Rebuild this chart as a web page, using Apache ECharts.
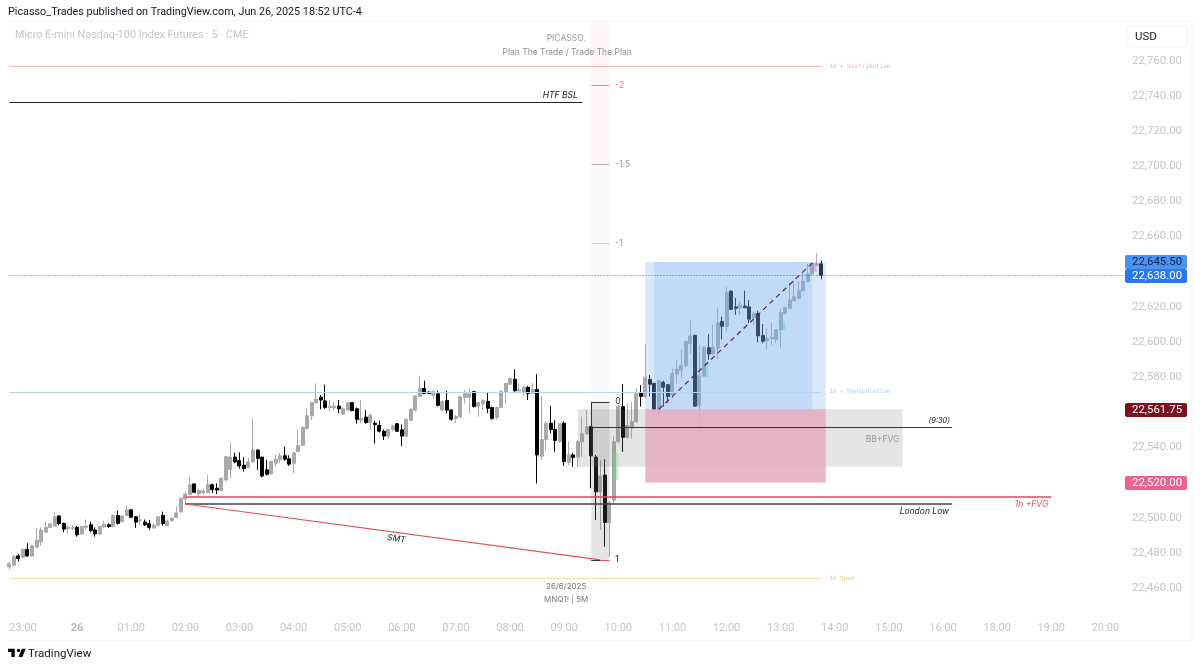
<!DOCTYPE html>
<html><head><meta charset="utf-8">
<style>html,body{margin:0;padding:0;background:#fff}#c{width:1200px;height:669px}</style>
<script src="https://cdn.jsdelivr.net/npm/echarts@6/dist/echarts.min.js"></script>
</head><body><div id="c"></div>
<script>
const priceTicks=[22460,22480,22500,22520,22540,22560,22580,22600,22620,22640,22660,22680,22700,22720,22740,22760];
const opens=[22472,22473,22478.25,22477.5,22482,22478.25,22483.25,22486.25,22491.75,22494.5,
22495.25,22501,22496.75,22493.75,22493.75,22494.5,22490.75,22494.5,22496,22493,
22490.75,22494.75,22496,22495,22501.25,22497.75,22501.25,22504.5,22500.5,22498.25,
22497.5,22496.5,22494.25,22495.75,22501.25,22495.5,22498.25,22500.25,22503.25,22510.75,
22513,22519.25,22513.5,22514.25,22514.25,22518.75,22516.75,22515.5,22521.5,22527.5,
22534.5,22532.5,22530,22528.75,22531.75,22538.5,22534.5,22527.25,22525,22531,
22533,22535.25,22533.5,22531,22537.75,22541.25,22550.75,22558,22565.5,22568.5,
22566.5,22562.75,22562.5,22563.5,22559,22561.25,22565.5,22562,22555.5,22557.25,
22554.25,22553.75,22552.5,22549.25,22546.5,22550.25,22553.5,22550,22546.5,22555.5,
22561.25,22569,22573.5,22571.5,22569.75,22570.5,22561.25,22566.75,22561.25,22556.5,
22557.5,22568.5,22568.5,22571.75,22563.5,22564.75,22566.25,22562.75,22557,22562.75,
22571.5,22576,22578.75,22572.25,22571.75,22574.25,22570.75,22573,22535,22544.5,
22553.75,22550.25,22543.25,22553.75,22531.5,22535.75,22534.5,22543.25,22547.75,22551.75,
22534.5,22514.75,22524.25,22497.25,22510,22543.25,22563.25,22545.75,22551,22554.75,
22570.75,22569,22578.75,22576.5,22561.25,22577,22575.75,22570,22581.75,22584,
22586.5,22599.25,22603.75,22564,22580.75,22596.75,22593.25,22596.5,22611.75,22608.75,
22629,22620,22619.5,22620.5,22620,22613.75,22616.25,22603.75,22600.75,22602,
22601.5,22607,22616.25,22619.25,22623.5,22625,22629.25,22634.5,22638.75,22643.75,
22644.5];
const closes=[22473.75,22477.75,22476.75,22481.75,22478.25,22484,22487.25,22493,22494.5,22496.5,
22500.5,22496.75,22493.5,22494.5,22494.25,22490.25,22495,22495.25,22492.75,22490.75,
22495,22496.25,22495,22501.25,22496.75,22501,22504.5,22500.25,22497.5,22498.75,
22496,22494.5,22495.75,22500.5,22496.75,22498,22499.75,22502.75,22511,22513.5,
22518.75,22514.5,22515.5,22515.25,22519,22516,22515.75,22522.5,22534.75,22534.5,
22531.75,22529.5,22528,22531.75,22538.5,22533.75,22523.75,22524.75,22532,22533.25,
22535.25,22533.25,22530.5,22537,22541.25,22551.5,22558,22565.5,22567.5,22567,
22562.75,22563.5,22563.5,22562,22562,22565.5,22561,22556,22556.5,22554.25,
22558.25,22553,22549.25,22546.5,22550.25,22552.25,22549.25,22546.5,22556,22561.75,
22569.25,22573.75,22570.75,22570.75,22571.75,22564,22566,22561.25,22556,22557.5,
22569,22570.75,22570.5,22563.25,22565.5,22566.75,22562.25,22556.5,22562.75,22571.75,
22576.5,22579.25,22572.25,22573,22574.25,22570.75,22573,22535.75,22544.5,22553.75,
22550.25,22544,22553.5,22532,22535.75,22534.25,22543.25,22547.75,22551.75,22535.25,
22514.75,22523.75,22497.25,22508.5,22543.25,22563.5,22545.75,22552.5,22554.75,22570.75,
22569,22580,22576,22561.75,22578,22574.25,22569,22582.25,22584.5,22586.5,
22600.25,22603.5,22563.5,22580.75,22597,22593.25,22597,22611,22609,22628,
22618.5,22619.25,22621,22619.5,22613,22616.25,22603.5,22600.5,22602,22602.75,
22607,22616.75,22619.75,22624,22625.75,22629.25,22634.5,22638.75,22644.5,22644.5,
22638];
const lows=[22470.5,22472.25,22475,22476.75,22477.75,22477.75,22482.5,22484,22491.5,22494,
22495,22495.75,22491.75,22490.75,22493,22489.25,22490.25,22493,22491.75,22489.25,
22490,22494,22494.25,22494.5,22496,22497.25,22501,22499.75,22494.25,22495.75,
22495.25,22493,22493.5,22495,22495.5,22495,22497.75,22499.75,22502.75,22507.25,
22513,22514,22512,22513,22514,22514,22513.5,22514.75,22520.5,22522.5,
22531,22528,22526.25,22528.25,22531.25,22527.25,22523,22524,22524.5,22529,
22531,22532.5,22529.5,22525.25,22537.5,22540.75,22550.25,22555.5,22565,22561.75,
22561.75,22560.5,22561,22559.5,22558.5,22561,22560.5,22553.5,22553.75,22553.5,
22550,22542.25,22548.5,22544.25,22545,22549.5,22548.75,22540.75,22545.75,22555.25,
22560.5,22568.5,22570.5,22570.5,22567.5,22563.25,22560.5,22559.5,22555.25,22553.75,
22556.5,22565,22559.5,22562.75,22557.5,22561.25,22559.5,22555.75,22556,22562.25,
22565,22575.5,22571.75,22571.75,22569.75,22567,22570.5,22519.5,22532.75,22538.5,
22548,22537.5,22542.75,22529.5,22530,22529,22529,22534.75,22547,22516.75,
22498.75,22493,22483.5,22477.75,22507.25,22542.25,22537.5,22545,22545.25,22554,
22563.25,22568,22569,22561.25,22556.5,22563.25,22565.5,22568,22576.5,22579.25,
22585.5,22593.5,22563.25,22549.5,22580.25,22589.75,22592.75,22590.25,22601.5,22606,
22618.25,22615.5,22615.5,22619.25,22610.75,22609.75,22599.75,22599.25,22595.75,22598.25,
22599.25,22596.5,22615.5,22618.5,22623.25,22624.25,22628.75,22633.75,22638.25,22643.25,
22635.75];
const highs=[22475,22478.75,22479.25,22482.5,22485.5,22484.5,22494,22494.5,22497.75,22496.75,
22502.75,22501.5,22497.25,22495.75,22495.75,22495.25,22495.25,22499,22497.75,22494.5,
22495.25,22498.25,22496.75,22502,22504,22501.25,22507,22504.75,22501,22502,
22499,22498.75,22496.75,22501,22503.5,22499,22500.25,22506.25,22511.5,22514.75,
22523.25,22519.5,22516.5,22516.75,22524.25,22519.5,22519.5,22523,22535,22542.75,
22537,22537.25,22534.5,22534,22556.5,22539,22534.75,22533,22532.5,22535.75,
22536.75,22540.5,22535.5,22537.5,22550.25,22551.75,22562.25,22566,22576.5,22569.75,
22575.75,22567,22566,22567,22562.75,22565.75,22565.75,22562.75,22567,22561.25,
22559.5,22555.25,22555.25,22550.25,22550.75,22553,22553.75,22553,22556.5,22562.25,
22569.75,22580.75,22578,22572,22572.75,22572.25,22567,22572.25,22561.75,22558.5,
22569.25,22572.75,22573.75,22572.25,22566,22567.5,22571.25,22563.25,22563.25,22572.75,
22576.75,22580,22584.5,22576.5,22575,22575,22576.75,22581.75,22569.25,22554.75,
22563.5,22555.5,22553.75,22554.75,22543.25,22537,22544.25,22557.5,22561.25,22552.25,
22535.75,22532.75,22533.25,22509.25,22546.25,22564.25,22576,22565.25,22566,22573.75,
22575.5,22598.75,22581.25,22576.75,22578.5,22578,22576,22585,22589.75,22595.5,
22600.75,22612.5,22604.25,22598.25,22597.5,22604.5,22609.75,22619.25,22614.5,22631.5,
22629.25,22625,22623,22629.25,22624,22617.25,22617.75,22610.25,22607.75,22611,
22607.25,22619.25,22620,22633.5,22635.25,22634.5,22639,22644.75,22645.25,22650.5,
22646.25];

// 5-minute session times; the daily break (17:00-17:55) has no bars
const times=[];
for(let m=22*60+45,n=0;n<248;m+=5,n++){
  let t=m%1440; if(t>=17*60&&t<18*60){m+=60;t=m%1440;}
  times.push(String(Math.floor(t/60)).padStart(2,'0')+':'+String(t%60).padStart(2,'0'));
}
const seqEnd=times[247];

// [from, to, topPrice, bottomPrice, fill]
const boxes=[
 ['09:30','09:50',22782.25,22701,'rgba(255,225,225,.27)'],
 ['09:30','09:50',22701,22566,'rgba(215,222,222,.18)'],
 ['09:15','15:15',22561.75,22529,'rgba(120,120,120,.2)'],
 ['09:30','09:50',22566,22476,'rgba(120,120,120,.2)'],
 ['09:55','10:00',22536.9,22521.5,'rgba(110,220,150,.4)'],
 ['11:35','11:40',22588,22580,'rgba(90,215,160,.35)'],
 ['13:00','13:05',22611.6,22606.9,'rgba(90,215,160,.4)'],
 ['13:35','13:40',22645,22640,'rgba(225,90,130,.4)'],
 ['10:30','13:50',22561.75,22520,'rgba(230,169,193,.85)'],
 ['10:30','13:50',22645.5,22561.75,'rgba(135,178,242,.3)'],
 ['10:40','13:35',22645.5,22561.75,'rgba(100,160,240,.2)']
];
// [from, priceFrom, to, priceTo, color, width, type]
const lines=[
 ['22:45',22757,'13:45',22757,'#f8b4b4',1,'solid'],
 ['22:45',22736.75,'09:20',22736.75,'#222',1,'solid'],
 ['22:45',22571.6,'13:45',22571.6,'#b9d3f4',1,'solid'],
 ['22:45',22465.7,'13:45',22465.7,'#fbdca0',1,'solid'],
 ['22:45',22638,seqEnd,22638,'#2a77ee',1,[1,2]],
 ['09:30',22551.75,'16:10',22551.75,'#333',1,'solid'],
 ['02:00',22511.8,'19:00',22511.8,'#e6465a',1.5,'solid'],
 ['02:00',22507.8,'16:10',22507.8,'#444',1.5,'solid'],
 ['02:00',22507.8,'09:40',22476,'#e0505f',1.2,'solid'],
 ['09:30',22566,'09:50',22566,'#333',1,'solid'],
 ['09:30',22566,'09:30',22551.75,'#333',1,'solid'],
 ['09:30',22476,'09:50',22476,'#333',1,'solid'],
 ['09:40',22476,'09:50',22476,'#e0505f',1,'solid'],
 ['09:30',22656,'09:50',22656,'#cfcfcf',1,'solid'],
 ['09:30',22701,'09:50',22701,'#c9a9a9',1,'solid'],
 ['09:30',22746,'09:50',22746,'#f08a8a',1,'solid'],
 ['10:45',22561.75,'13:35',22645,'#5d2350',1.2,[5,4]]
];
// [time, price, text, color, size, align, dx, italic, rotate, font]
const MONO='"DejaVu Sans Mono",monospace', SANS='Inter,"Liberation Sans",sans-serif', NARROW='Roboto,"Liberation Sans",sans-serif';
const notes=[
 ['09:00',22773,'PICASSO.','#9a9a9a',8.5,'center',2,0,0,SANS],
 ['09:00',22765,'Plan The Trade / Trade The Plan','#8f8f8f',8.5,'center',3,0,0,SANS],
 ['09:00',22461,'26/6/2025','#777',8,'center',2,0,0,SANS],
 ['09:00',22453.2,'MNQ1! | 5M','#777',8,'center',2,0,0,SANS],
 ['13:55',22757,'1D + Distribution','#f4b4b4',6,'left',-1,0,0,MONO],
 ['13:55',22571.6,'1D + Manipulation','#b4cff2',6,'left',-1,0,0,MONO],
 ['13:55',22465.7,'1D Open','#f3c47c',6,'left',-1,0,0,MONO],
 ['09:15',22740.6,'HTF BSL','#111',8.5,'right',0,1,0,SANS],
 ['16:10',22555,'(9:30)','#222',7.5,'right',-2,1,0,SANS],
 ['15:15',22544.8,'BB+FVG','#9a9a9a',8.5,'right',-3,0,0,SANS],
 ['19:00',22507.3,'1h +FVG','#e0505f',8.5,'right',-3,1,0,SANS],
 ['16:10',22503.8,'London Low','#222',8.5,'right',-3,1,0,SANS],
 ['05:55',22487.9,'SMT','#222',8.5,'center',-1,1,-7.8,SANS],
 ['09:50',22566,'0','#222',8.5,'left',6,0,0,SANS],
 ['09:50',22476,'1','#222',8.5,'left',6,0,0,SANS],
 ['09:50',22656,'-1','#999',8.5,'left',6,0,0,SANS],
 ['09:50',22701,'-1.5','#999',8.5,'left',6,0,0,SANS],
 ['09:50',22746,'-2','#ee7c7c',8.5,'left',6,0,0,SANS]
];
// [text, top pixel, fill, text colour]
const badges=[
 ['22,645.50',255,'#4b92f1','#0f2440'],
 ['22,638.00',269,'#2a77ee','#ffffff'],
 ['22,561.75',403,'#7d1120','#ffffff'],
 ['22,520.00',476,'#ee5f92','#ffffff']
];

const chart=echarts.init(document.getElementById('c'),null,{renderer:'canvas'});
const logoScale=[0.55,0.55], logoPos=[7,645.5];
const gfx=[
 {type:'text',x:8,y:7,style:{text:'Picasso_Trades published on TradingView.com, Jun 26, 2025 18:52 UTC-4',font:'10.8px '+NARROW,fill:'#131722'}},
 {type:'text',x:15,y:30,style:{text:'Micro E-mini Nasdaq-100 Index Futures · 5 · CME',font:'10.8px '+NARROW,fill:'#c4c6cc'}},
 {type:'line',shape:{x1:8,y1:21,x2:1192,y2:21},style:{stroke:'#f2f3f6',lineWidth:1}},
 {type:'line',shape:{x1:8,y1:640.5,x2:1192,y2:640.5},style:{stroke:'#f2f3f6',lineWidth:1}},
 {type:'line',shape:{x1:1192,y1:21,x2:1192,y2:640},style:{stroke:'#f4f5f8',lineWidth:1}},
 {type:'rect',shape:{x:1127,y:26,width:60,height:21,r:3},style:{fill:'#fff',stroke:'#f0f1f4',lineWidth:1}},
 {type:'text',x:1135,y:31,style:{text:'USD',font:'11.5px '+NARROW,fill:'#222'}},
 {type:'group',x:logoPos[0],y:logoPos[1],scaleX:logoScale[0],scaleY:logoScale[1],children:[
  {type:'polygon',shape:{points:[[14,6],[2,6],[2,12],[8,12],[8,21],[14,21]]},style:{fill:'#000'}},
  {type:'polygon',shape:{points:[[28,21],[21,21],[27,6],[34,6]]},style:{fill:'#000'}},
  {type:'circle',shape:{cx:21,cy:9,r:3},style:{fill:'#000'}}]},
 {type:'text',x:28,y:648,style:{text:'TradingView',font:'11.5px '+NARROW,fill:'#131722'}}
];
badges.forEach(b=>{
 gfx.push({type:'rect',z:20,shape:{x:1125,y:b[1],width:62,height:14,r:2},style:{fill:b[2]}});
 gfx.push({type:'text',z:21,x:1132,y:b[1]+1.5,style:{text:b[0],font:'11.4px '+NARROW,fill:b[3]}});
});

chart.setOption({
 animation:false,
 backgroundColor:'#fff',
 textStyle:{fontFamily:SANS},
 grid:{left:7.2,top:21.9,width:1118.48,height:601.2,containLabel:false},
 xAxis:{type:'category',data:times,boundaryGap:true,
  axisLine:{show:false},axisTick:{show:false},splitLine:{show:false},
  axisLabel:{margin:0,fontSize:11,fontFamily:NARROW,color:'#c4c6cc',hideOverlap:false,
   interval:(i,v)=>v.endsWith(':00'),
   formatter:v=>v==='00:00'?'{b|26}':v,
   rich:{b:{fontWeight:'bold',fontSize:11,fontFamily:NARROW,color:'#b5b7bd'}}}},
 yAxis:{type:'value',position:'right',min:22440,max:22782.25,interval:20,scale:true,
  axisLine:{show:false},axisTick:{show:false},splitLine:{show:false},
  axisLabel:{margin:56.3,align:'right',fontSize:11.4,fontFamily:NARROW,color:'#c2c4ca',showMinLabel:true,showMaxLabel:false,padding:[2,0,0,0],
   formatter:v=>priceTicks.includes(v)?v.toLocaleString('en-US',{minimumFractionDigits:2}):''}},
 series:[
  {type:'candlestick',name:'MNQ1!',z:2,barWidth:3.5,
   data:opens.map((o,i)=>[o,closes[i],lows[i],highs[i]]),
   itemStyle:{color:'#a9a9a9',color0:'#000',borderColor:'#a9a9a9',borderColor0:'#000',borderWidth:1}},
  {type:'line',name:'boxes',z:3,data:[],silent:true,
   markArea:{silent:true,z:3,data:boxes.map(b=>[
     {xAxis:b[0],yAxis:b[2],itemStyle:{color:b[4]}},{xAxis:b[1],yAxis:b[3]}])}},
  {type:'line',name:'annotations',z:4,data:[],silent:true,
   markLine:{silent:true,z:4,symbol:'none',label:{show:false},
    data:lines.map(l=>[
     {coord:[l[0],l[1]],lineStyle:{color:l[4],width:l[5],type:l[6]}},
     {coord:[l[2],l[3]]}])},
   markPoint:{silent:true,z:6,symbol:'circle',symbolSize:1,itemStyle:{color:'rgba(0,0,0,0)'},
    data:notes.map(n=>({coord:[n[0],n[1]],label:{show:true,position:'inside',formatter:n[2],color:n[3],fontSize:n[4],
      align:n[5],verticalAlign:'middle',offset:[n[6],0],fontStyle:n[7]?'italic':'normal',rotate:n[8],fontFamily:n[9]}}))}}
 ],
 graphic:gfx
});
</script></body></html>
